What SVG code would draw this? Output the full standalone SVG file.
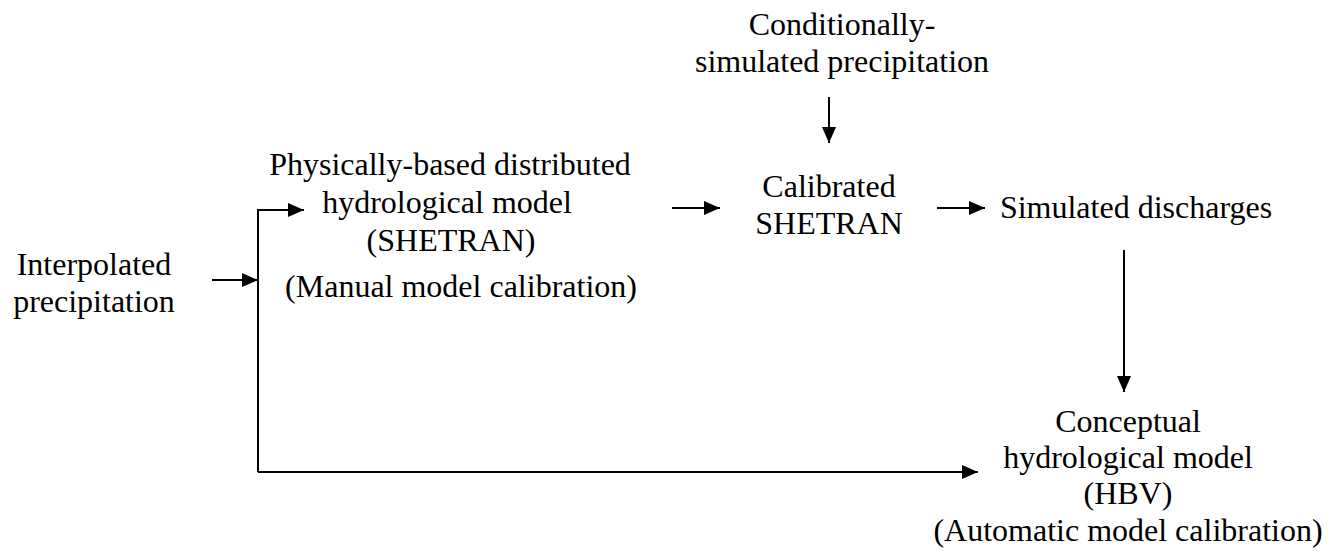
<svg xmlns="http://www.w3.org/2000/svg" width="1335" height="559" viewBox="0 0 1335 559">
  <style>
    text { font-family: "Liberation Serif", "Times New Roman", serif; font-size: 32px; fill: #000; text-anchor: middle; }
    .edge { stroke: #000; stroke-width: 2; fill: none; }
  </style>
  <defs>
    <marker id="arrow" markerUnits="userSpaceOnUse" markerWidth="16" markerHeight="14" refX="16" refY="7" orient="auto">
      <path d="M0,0 L16,7 L0,14 Z" fill="#000"/>
    </marker>
  </defs>
  <rect width="1335" height="559" fill="#fff"/>

  <g id="interpolated">
    <text x="94" y="275">Interpolated</text>
    <text x="94" y="312">precipitation</text>
  </g>

  <g id="shetran-model">
    <text x="450" y="175">Physically-based distributed</text>
    <text x="447" y="213">hydrological model</text>
    <text x="451" y="251">(SHETRAN)</text>
    <text x="461" y="297">(Manual model calibration)</text>
  </g>

  <g id="conditional">
    <text x="842" y="35">Conditionally-</text>
    <text x="842" y="72">simulated precipitation</text>
  </g>

  <g id="calibrated">
    <text x="829" y="197">Calibrated</text>
    <text x="829" y="234">SHETRAN</text>
  </g>

  <g id="discharges">
    <text x="1136" y="218">Simulated discharges</text>
  </g>

  <g id="hbv">
    <text x="1128" y="432">Conceptual</text>
    <text x="1128" y="468">hydrological model</text>
    <text x="1128" y="504">(HBV)</text>
    <text x="1128" y="541">(Automatic model calibration)</text>
  </g>

  <g id="connectors">
    <line class="edge" x1="212" y1="280" x2="258" y2="280" marker-end="url(#arrow)"/>
    <polyline class="edge" points="258,472 258,210 304,210" marker-end="url(#arrow)"/>
    <line class="edge" x1="258" y1="472" x2="978" y2="472" marker-end="url(#arrow)"/>
    <line class="edge" x1="672" y1="208" x2="720" y2="208" marker-end="url(#arrow)"/>
    <line class="edge" x1="829" y1="97" x2="829" y2="143" marker-end="url(#arrow)"/>
    <line class="edge" x1="937" y1="208" x2="985" y2="208" marker-end="url(#arrow)"/>
    <line class="edge" x1="1124" y1="250" x2="1124" y2="392" marker-end="url(#arrow)"/>
  </g>
</svg>
